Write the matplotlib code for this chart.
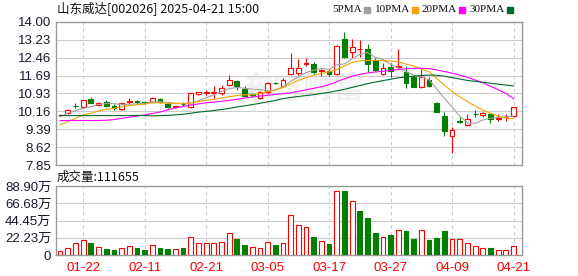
import numpy as np
import matplotlib
matplotlib.use("Agg")
import matplotlib.pyplot as plt
from matplotlib.lines import Line2D

# --- data ---
dates = ["01-17", "01-20", "01-21", "01-22", "01-23", "01-24", "01-27", "02-05", "02-06", "02-07",
         "02-10", "02-11", "02-12", "02-13", "02-14", "02-17", "02-18", "02-19", "02-20", "02-21",
         "02-24", "02-25", "02-26", "02-27", "02-28", "03-03", "03-04", "03-05", "03-06", "03-07",
         "03-10", "03-11", "03-12", "03-13", "03-14", "03-17", "03-18", "03-19", "03-20", "03-21",
         "03-24", "03-25", "03-26", "03-27", "03-28", "03-31", "04-01", "04-02", "04-03", "04-07",
         "04-08", "04-09", "04-10", "04-11", "04-14", "04-15", "04-16", "04-17", "04-18", "04-21"]

opens = [9.98, 10.07, 10.40, 10.35, 10.68, 10.44, 10.54, 10.39, 10.25, 10.55,
         10.58, 10.56, 10.57, 10.68, 10.45, 10.34, 10.47, 10.33, 10.91, 10.93,
         10.96, 10.93, 11.28, 11.47, 11.12, 10.88, 10.71, 11.00, 11.38, 11.25,
         11.74, 11.81, 12.17, 12.17, 11.88, 11.90, 11.74, 13.26, 12.71, 12.81,
         12.83, 12.36, 11.74, 12.07, 12.05, 11.85, 11.64, 11.21, 11.50, 10.52,
         9.95, 9.11, 9.73, 9.55, 10.05, 10.00, 10.03, 9.84, 9.89, 9.95]
highs = [10.03, 10.25, 10.52, 10.68, 10.77, 10.56, 10.63, 10.47, 10.53, 10.71,
         10.65, 10.60, 10.76, 10.71, 10.50, 10.40, 10.54, 10.95, 10.99, 11.07,
         11.25, 11.30, 11.71, 11.50, 11.24, 10.95, 11.02, 11.40, 11.42, 11.57,
         12.64, 12.40, 12.46, 12.26, 11.96, 11.99, 13.00, 13.54, 13.26, 13.21,
         13.03, 12.43, 12.21, 12.21, 12.83, 12.10, 11.66, 12.00, 11.64, 10.54,
         10.14, 9.47, 9.90, 10.04, 10.21, 10.14, 10.08, 10.03, 10.02, 10.35]
lows = [9.95, 10.05, 10.28, 10.33, 10.50, 10.40, 10.35, 10.23, 10.23, 10.48,
        10.48, 10.48, 10.55, 10.52, 10.28, 10.30, 10.39, 10.30, 10.85, 10.85,
        10.74, 10.85, 11.26, 11.07, 10.78, 10.75, 10.69, 10.90, 11.32, 11.23,
        11.72, 11.71, 12.10, 11.74, 11.66, 11.68, 11.72, 12.44, 12.43, 12.50,
        11.85, 11.88, 11.72, 11.61, 11.93, 11.17, 11.19, 11.17, 11.19, 10.12,
        9.09, 8.38, 9.64, 9.53, 9.92, 9.90, 9.67, 9.74, 9.75, 9.90]
closes = [10.00, 10.21, 10.38, 10.64, 10.52, 10.52, 10.39, 10.31, 10.51, 10.58,
          10.56, 10.53, 10.73, 10.54, 10.32, 10.38, 10.45, 10.93, 10.97, 10.97,
          11.00, 11.16, 11.51, 11.24, 10.81, 10.85, 11.00, 11.36, 11.35, 11.50,
          12.00, 12.00, 12.23, 11.85, 11.92, 11.76, 12.97, 12.47, 12.93, 12.84,
          12.17, 11.93, 12.03, 11.88, 12.08, 11.36, 11.21, 11.64, 11.24, 10.14,
          9.32, 9.35, 9.70, 9.81, 10.03, 10.10, 9.83, 9.87, 9.91, 10.33]

# volume in 万 (10k)
volumes = [5.1, 9.0, 15.4, 19.3, 15.8, 10.3, 7.7, 6.4, 9.0, 11.6,
           9.0, 6.4, 12.8, 9.0, 7.7, 7.7, 9.0, 23.0, 15.4, 15.4,
           15.4, 16.7, 28.3, 20.5, 12.8, 10.3, 9.0, 16.7, 12.8, 15.4,
           51.4, 38.5, 36.0, 23.0, 18.0, 14.1, 82.2, 82.2, 69.3, 56.5,
           47.5, 28.3, 23.0, 25.7, 32.1, 30.8, 20.5, 32.1, 19.3, 21.8,
           30.8, 20.5, 20.5, 15.4, 11.6, 9.0, 9.0, 6.4, 6.4, 11.17]
vol_up = [1, 1, 1, 1, 0, 1, 0, 0, 1, 1,
          0, 0, 1, 0, 0, 1, 0, 1, 1, 1,
          1, 1, 1, 0, 0, 1, 1, 1, 0, 1,
          1, 1, 1, 0, 1, 0, 1, 0, 1, 0,
          0, 0, 1, 0, 1, 0, 0, 1, 0, 0,
          0, 1, 1, 1, 1, 1, 0, 1, 1, 1]

ma5 = [9.92, 10.08, 10.18, 10.28, 10.35, 10.45, 10.49, 10.48, 10.45, 10.46,
       10.47, 10.49, 10.56, 10.57, 10.53, 10.50, 10.48, 10.51, 10.60, 10.73,
       10.86, 11.01, 11.12, 11.18, 11.14, 11.11, 11.08, 11.05, 11.07, 11.21,
       11.44, 11.64, 11.82, 11.92, 12.00, 11.95, 12.15, 12.19, 12.41, 12.59,
       12.68, 12.47, 12.38, 12.17, 12.02, 11.86, 11.71, 11.63, 11.51, 11.12,
       10.71, 10.34, 9.95, 9.66, 9.64, 9.78, 9.86, 9.90, 9.92, 9.95]
ma10 = [9.57, 9.71, 9.85, 10.00, 10.07, 10.17, 10.24, 10.28, 10.35, 10.40,
        10.43, 10.47, 10.52, 10.52, 10.50, 10.49, 10.49, 10.52, 10.57, 10.63,
        10.67, 10.72, 10.78, 10.83, 10.86, 10.87, 10.92, 11.00, 11.06, 11.18,
        11.33, 11.48, 11.60, 11.70, 11.78, 11.85, 11.95, 12.10, 12.25, 12.32,
        12.34, 12.34, 12.33, 12.31, 12.28, 12.18, 12.10, 11.98, 11.85, 11.57,
        11.28, 11.00, 10.78, 10.57, 10.38, 10.21, 10.07, 9.95, 9.86, 9.83]
ma20 = [9.76, 9.76, 9.76, 9.76, 9.76, 9.76, 9.77, 9.80, 9.85, 9.90,
        9.95, 10.00, 10.06, 10.12, 10.22, 10.30, 10.36, 10.42, 10.47, 10.52,
        10.55, 10.59, 10.62, 10.67, 10.72, 10.77, 10.81, 10.84, 10.88, 10.91,
        10.95, 11.01, 11.08, 11.14, 11.21, 11.30, 11.42, 11.55, 11.66, 11.74,
        11.80, 11.84, 11.87, 11.91, 11.95, 11.98, 12.00, 12.00, 11.99, 11.93,
        11.86, 11.79, 11.71, 11.61, 11.50, 11.38, 11.23, 11.08, 10.92, 10.70]
ma30 = [9.97, 9.97, 9.97, 9.97, 9.97, 9.97, 9.97, 9.97, 9.97, 9.97,
        9.98, 9.97, 9.96, 9.97, 9.98, 10.00, 10.03, 10.07, 10.12, 10.15,
        10.19, 10.23, 10.28, 10.34, 10.39, 10.44, 10.50, 10.56, 10.62, 10.70,
        10.75, 10.79, 10.83, 10.87, 10.92, 10.97, 11.03, 11.10, 11.18, 11.26,
        11.34, 11.41, 11.47, 11.53, 11.59, 11.63, 11.66, 11.69, 11.71, 11.70,
        11.66, 11.60, 11.54, 11.48, 11.44, 11.40, 11.36, 11.32, 11.28, 11.24]

price_ticks = [7.85, 8.62, 9.39, 10.16, 10.93, 11.69, 12.46, 13.23, 14.00]
vol_ticks = [0, 22.23, 44.45, 66.68, 88.90]
date_ticks = ["01-22", "02-11", "02-21", "03-05", "03-17", "03-27", "04-09", "04-21"]

RED = "#ff0000"
GREEN = "#007f00"
GRID = "#cccccc"
FRAME = "#999999"
TXT = "#1a1a2e"
cjk = ["Noto Sans CJK SC", "DejaVu Sans"]
num_font = ["Liberation Sans", "Noto Sans CJK SC"]

x = np.arange(len(dates))
o, h, l, c = map(np.array, (opens, highs, lows, closes))
up = c >= o
date_idx = [dates.index(d) for d in date_ticks]

fig = plt.figure(figsize=(5.78, 2.76), dpi=100)
W, H = 578, 276
ax = fig.add_axes([55.5 / W, 1 - 165 / H, 466.5 / W, 143.3 / H])
axv = fig.add_axes([55.5 / W, 1 - 255 / H, 466.5 / W, 69 / H])

for a in (ax, axv):
    a.set_xlim(-0.6, 60.1)
    for s in a.spines.values():
        s.set_color(FRAME)
        s.set_linewidth(1.0)
    a.tick_params(length=0)
    for i in date_idx:
        a.axvline(i, color=GRID, lw=0.8, ls=(0, (3, 3)), zorder=0)

# faint watermark
ax.text(0.53, 0.53, "东方财富", transform=ax.transAxes, fontsize=22, color="#f1f1f1",
        family=cjk, ha="center", va="center", fontweight="bold", style="italic", zorder=0)

# --- price ---
ax.set_ylim(7.85, 14.00)
ax.set_yticks(price_ticks)
ax.set_yticklabels([f"{v:.2f}" for v in price_ticks], fontsize=9.5, color=TXT, family=num_font)
ax.tick_params(axis="y", pad=3)
ax.set_xticks([])
for v in price_ticks[1:-1]:
    ax.axhline(v, color=GRID, lw=0.8, zorder=0)

bw = 0.62
col = np.where(up, RED, GREEN)
ax.vlines(x, l, h, colors=col, lw=0.8, zorder=2)
body = np.maximum(np.abs(c - o), 0.012)
ax.bar(x[up], body[up], bottom=np.minimum(o, c)[up], width=bw, facecolor="white",
       edgecolor=RED, linewidth=0.8, zorder=3)
ax.bar(x[~up], body[~up], bottom=np.minimum(o, c)[~up], width=bw, facecolor=GREEN,
       edgecolor=GREEN, linewidth=0.8, zorder=3)

ma_cols = ["#a0a0a0", "#f5a300", "#ff00ff", "#006a2e"]
for ma, mc in zip((ma5, ma10, ma20, ma30), ma_cols):
    ax.plot(x, ma, color=mc, lw=0.8, zorder=4)

# --- volume ---
vu = np.array(vol_up, dtype=bool)
v = np.array(volumes)
axv.set_ylim(0, 88.90)
axv.set_yticks(vol_ticks)
axv.set_yticklabels(["0"] + [f"{t:.2f}万" for t in vol_ticks[1:]], fontsize=9.5,
                    color=TXT, family=num_font)
axv.tick_params(axis="y", pad=3)
for t in vol_ticks[1:-1]:
    axv.axhline(t, color=GRID, lw=0.8, zorder=0)
axv.bar(x[vu], v[vu], width=bw, facecolor="white", edgecolor=RED, linewidth=0.8, zorder=3)
axv.bar(x[~vu], v[~vu], width=bw, facecolor=GREEN, edgecolor=GREEN, linewidth=0.8, zorder=3)
axv.set_xticks(date_idx)
axv.set_xticklabels(date_ticks, fontsize=9.5, color=RED, family=num_font)
axv.tick_params(axis="x", pad=5)

# --- header texts ---
fig.text(57 / W, 1 - 9 / H, "山东威达[002026] 2025-04-21 15:00", fontsize=9,
         family=cjk, va="center", ha="left", color="#111111")
fig.text(57 / W, 1 - 177 / H, "成交量:111655", fontsize=9, family=cjk,
         va="center", ha="left", color="#111111")

# legend: label ends just left of its colour square
legend_items = [("5PMA", 367), ("10PMA", 415), ("20PMA", 462), ("30PMA", 510)]
for (lab, mx), mc in zip(legend_items, ma_cols):
    fig.text((mx - 5) / W, 1 - 9.5 / H, lab, fontsize=8, family="Liberation Serif",
             va="center", ha="right", color="#111111")
    fig.add_artist(Line2D([mx / W], [1 - 9.5 / H], marker="s", markersize=3.8,
                          color=mc, transform=fig.transFigure))

fig.savefig("out.png", dpi=100, facecolor="white")
